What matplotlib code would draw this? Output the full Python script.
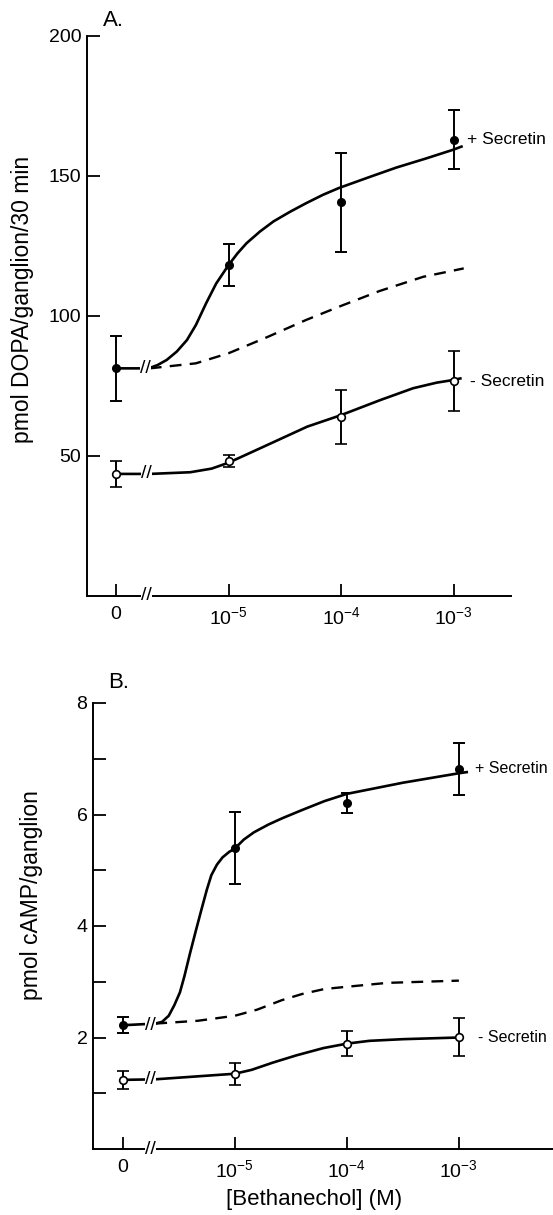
import matplotlib.pyplot as plt

plt.rcParams['font.family'] = ['Liberation Sans', 'DejaVu Sans']
plt.rcParams['mathtext.fontset'] = 'custom'
plt.rcParams['mathtext.rm'] = 'Liberation Sans'
plt.rcParams['mathtext.it'] = 'Liberation Sans'

# bethanechol concentrations, placed at equal steps on a broken axis
conc_pos = [0, 1, 2, 3]
conc_labels = ['0', r'$10^{-5}$', r'$10^{-4}$', r'$10^{-3}$']

# A. DOPA synthesis (pmol/ganglion/30 min)
dopa_plus = [81.3, 118.2, 140.6, 163.0]
dopa_plus_err = [11.6, 7.5, 17.6, 10.6]
dopa_minus = [43.6, 48.3, 64.0, 76.9]
dopa_minus_err = [4.7, 2.1, 9.6, 10.7]

# curves
dopa_plus_fit_x = [0, 0.29, 0.37, 0.45, 0.54, 0.63, 0.71, 0.80, 0.89, 1.0, 1.08, 1.16,
                   1.28, 1.40, 1.55, 1.69, 1.84, 1.98, 2.25, 2.49, 2.75, 2.99, 3.07]
dopa_plus_fit_y = [81.3, 81.3, 82.5, 84.3, 87.3, 91.4, 96.8, 104.5, 111.6, 118.2, 122.4, 126.0,
                   130.2, 133.8, 137.3, 140.3, 143.3, 145.7, 149.6, 153.0, 156.2, 159.3, 160.5]
dopa_minus_fit_x = [0, 0.30, 0.66, 0.85, 1.0, 1.31, 1.70, 2.0, 2.35, 2.64, 2.85, 2.99, 3.06]
dopa_minus_fit_y = [43.6, 43.6, 44.2, 45.5, 47.6, 53.3, 60.5, 64.6, 70.0, 74.2, 76.2, 77.1, 77.7]
dopa_sum_x = [0.30, 0.71, 1.0, 1.34, 1.69, 1.98, 2.34, 2.73, 3.09]
dopa_sum_y = [81.3, 83.1, 86.7, 92.4, 98.6, 103.3, 108.9, 114.0, 117.0]

# B. cAMP content (pmol/ganglion)
camp_plus = [2.22, 5.40, 6.20, 6.82]
camp_plus_err = [0.14, 0.64, 0.18, 0.47]
camp_minus = [1.24, 1.35, 1.89, 2.01]
camp_minus_err = [0.16, 0.20, 0.22, 0.34]

camp_plus_fit_x = [0, 0.29, 0.35, 0.41, 0.46, 0.51, 0.55, 0.60, 0.65, 0.70, 0.75, 0.79,
                   0.84, 0.89, 0.95, 1.0, 1.08, 1.17, 1.30, 1.42, 1.60, 1.80, 2.0, 2.5,
                   3.0, 3.07]
camp_plus_fit_y = [2.22, 2.25, 2.28, 2.39, 2.58, 2.81, 3.10, 3.51, 3.90, 4.28, 4.65, 4.91,
                   5.10, 5.23, 5.33, 5.39, 5.55, 5.68, 5.82, 5.93, 6.08, 6.24, 6.37, 6.57,
                   6.74, 6.76]
camp_minus_fit_x = [0, 0.29, 1.0, 1.15, 1.34, 1.55, 1.79, 2.0, 2.2, 2.5, 3.0]
camp_minus_fit_y = [1.24, 1.25, 1.35, 1.42, 1.55, 1.68, 1.81, 1.89, 1.94, 1.97, 2.0]
camp_sum_x = [0.29, 0.67, 1.0, 1.2, 1.42, 1.6, 1.8, 2.0, 2.36, 3.0]
camp_sum_y = [2.25, 2.30, 2.39, 2.50, 2.67, 2.78, 2.87, 2.91, 2.98, 3.02]

W, H = 553, 1215
fig = plt.figure(figsize=(W / 100, H / 100), dpi=100)

axA = fig.add_axes([87 / W, 1 - 596 / H, 424 / W, 560 / H])
axB = fig.add_axes([93 / W, 1 - 1149 / H, 460 / W, 446 / H])


def style(ax):
    for s in ['top', 'right']:
        ax.spines[s].set_visible(False)
    for s in ['left', 'bottom']:
        ax.spines[s].set_linewidth(1.4)
    ax.tick_params(which='both', direction='in', length=9, width=1.3,
                   labelsize=14, pad=4)
    ax.tick_params(axis='x', pad=7)
    ax.set_xticks(conc_pos)
    ax.set_xticklabels(conc_labels)


def brk(ax, x, y):
    ax.text(x, y, '//', ha='center', va='center', fontsize=14,
            bbox=dict(fc='white', ec='none', pad=0.1), zorder=6, clip_on=False)


def draw(ax, pos, plus, plus_err, minus, minus_err,
         pfx, pfy, mfx, mfy, sx, sy):
    ax.plot(pfx, pfy, color='black', lw=1.9, zorder=2)
    ax.plot(mfx, mfy, color='black', lw=1.9, zorder=2)
    ax.plot(sx, sy, color='black', lw=1.7, ls=(0, (5, 3.5)), zorder=2)
    ax.errorbar(pos, plus, yerr=plus_err, fmt='o', color='black', mfc='black',
                ms=5.5, capsize=4, elinewidth=1.4, capthick=1.4, zorder=4)
    ax.errorbar(pos, minus, yerr=minus_err, fmt='o', color='black', mfc='white',
                mew=1.2, ms=5.5, capsize=4, elinewidth=1.4, capthick=1.4, zorder=4)


# ---- panel A
style(axA)
draw(axA, conc_pos, dopa_plus, dopa_plus_err, dopa_minus, dopa_minus_err,
     dopa_plus_fit_x, dopa_plus_fit_y, dopa_minus_fit_x, dopa_minus_fit_y,
     dopa_sum_x, dopa_sum_y)
axA.set_xlim(-0.258, 3.51)
axA.set_ylim(0, 200)
axA.set_yticks([50, 100, 150, 200])
brk(axA, 0.26, dopa_plus[0])
brk(axA, 0.27, dopa_minus[0])
brk(axA, 0.27, 0)
axA.set_ylabel('pmol DOPA/ganglion/30 min', fontsize=16.5)
axA.yaxis.set_label_coords(-0.125, 0.53)
axA.text(3.12, 163, '+ Secretin', fontsize=12.5, va='center', clip_on=False)
axA.text(3.15, 76.5, '- Secretin', fontsize=12.5, va='center', clip_on=False)
fig.text(103 / W, 1 - 21 / H, 'A.', fontsize=16, va='center')

# ---- panel B
style(axB)
draw(axB, conc_pos, camp_plus, camp_plus_err, camp_minus, camp_minus_err,
     camp_plus_fit_x, camp_plus_fit_y, camp_minus_fit_x, camp_minus_fit_y,
     camp_sum_x, camp_sum_y)
axB.set_xlim(-0.266, 3.84)
axB.set_ylim(0, 8)
axB.set_yticks([2, 4, 6, 8])
axB.set_yticks([1, 3, 5, 7], minor=True)
brk(axB, 0.25, camp_plus[0])
brk(axB, 0.25, camp_minus[0])
brk(axB, 0.245, 0)
axB.set_ylabel('pmol cAMP/ganglion', fontsize=16.5)
axB.yaxis.set_label_coords(-0.109, 0.57)
axB.text(3.14, 6.82, '+ Secretin', fontsize=11.5, va='center', clip_on=False)
axB.text(3.17, 2.0, '- Secretin', fontsize=11.5, va='center', clip_on=False)
fig.text(108 / W, 1 - 683 / H, 'B.', fontsize=16, va='center')

fig.text(314 / W, 1 - 1200 / H, '[Bethanechol] (M)', fontsize=16,
         ha='center', va='center')

fig.savefig('out.png', dpi=100)
